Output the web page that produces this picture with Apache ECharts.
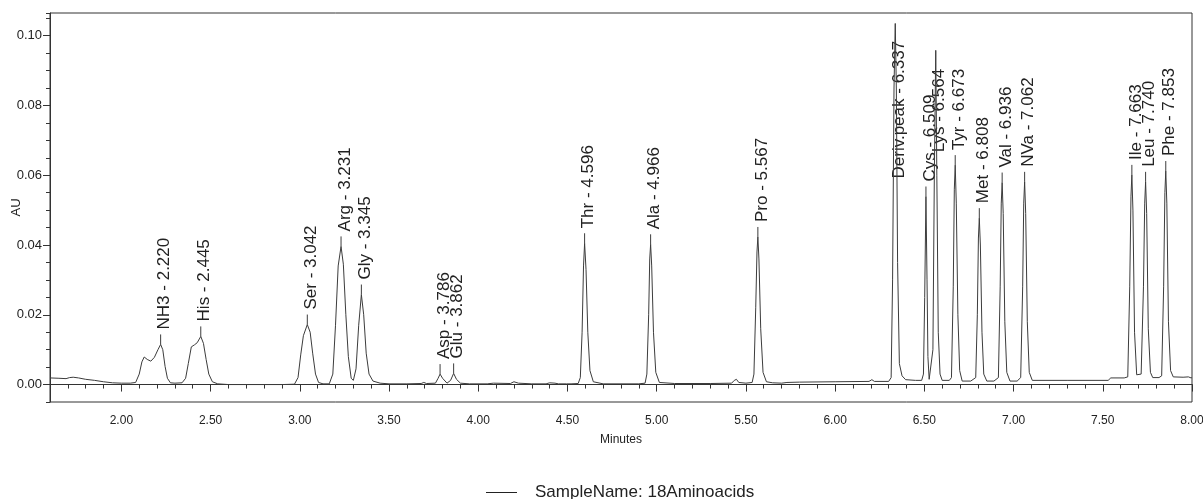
<!DOCTYPE html>
<html>
<head>
<meta charset="utf-8">
<script src="https://cdn.jsdelivr.net/npm/echarts@6/dist/echarts.min.js"></script>
<style>
  html, body { margin: 0; padding: 0; background: #fff; }
  #chart { width: 1203px; height: 499px; }
</style>
</head>
<body>
<div id="chart"></div>
<script>
// chromatogram trace (minutes / AU)
const traceTime = [
  1.600, 1.650, 1.690, 1.710, 1.730, 1.760, 1.800, 1.850, 1.900, 1.950, 2.000, 2.050,
  2.080, 2.100, 2.115, 2.128, 2.145, 2.165, 2.185, 2.205, 2.220, 2.232, 2.245, 2.258, 2.275, 2.300,
  2.340, 2.360, 2.375, 2.392, 2.410, 2.425, 2.445, 2.460, 2.475, 2.490, 2.510, 2.540,
  2.600, 2.700, 2.800, 2.900, 2.970, 2.990, 3.005, 3.020, 3.042, 3.058, 3.072, 3.088, 3.105, 3.130,
  3.165, 3.185, 3.200, 3.215, 3.231, 3.244, 3.258, 3.272, 3.288, 3.300,
  3.315, 3.330, 3.345, 3.358, 3.372, 3.388, 3.410, 3.450, 3.500, 3.600,
  3.680, 3.695, 3.710, 3.760, 3.775, 3.786, 3.800, 3.825, 3.845, 3.862, 3.878, 3.900, 3.950,
  4.050, 4.085, 4.095, 4.180, 4.200, 4.225, 4.300, 4.380, 4.400, 4.430, 4.450, 4.495, 4.505, 4.520,
  4.560, 4.572, 4.582, 4.590, 4.596, 4.604, 4.614, 4.626, 4.645, 4.700,
  4.900, 4.935, 4.945, 4.955, 4.961, 4.966, 4.972, 4.982, 4.995, 5.015, 5.100,
  5.300, 5.420, 5.435, 5.447, 5.460, 5.500,
  5.535, 5.545, 5.555, 5.562, 5.567, 5.573, 5.583, 5.596, 5.615, 5.650, 5.700,
  5.730, 5.800, 6.000, 6.190, 6.206, 6.220, 6.300,
  6.314, 6.322, 6.330, 6.337, 6.343, 6.350, 6.360, 6.375, 6.395, 6.450,
  6.485, 6.495, 6.502, 6.509, 6.515, 6.520, 6.527, 6.535,
  6.548, 6.556, 6.564, 6.570, 6.578, 6.588, 6.600, 6.640,
  6.652, 6.662, 6.668, 6.673, 6.679, 6.688, 6.698, 6.712, 6.760,
  6.788, 6.797, 6.803, 6.808, 6.814, 6.823, 6.833, 6.850, 6.890,
  6.915, 6.925, 6.931, 6.936, 6.942, 6.951, 6.962, 6.980, 7.020,
  7.040, 7.051, 7.057, 7.062, 7.068, 7.077, 7.088, 7.105, 7.300, 7.530, 7.545, 7.620,
  7.640, 7.651, 7.658, 7.663, 7.669, 7.678, 7.690, 7.700,
  7.715, 7.728, 7.735, 7.740, 7.746, 7.755, 7.767, 7.780, 7.815,
  7.830, 7.841, 7.848, 7.853, 7.859, 7.868, 7.880, 7.895, 7.950, 7.980, 7.995, 8.000
];
const traceAU = [
  0.0019, 0.0018, 0.0017, 0.0020, 0.0021, 0.0019, 0.0015, 0.0012, 0.0008, 0.0005, 0.0004, 0.0004,
  0.0006, 0.0030, 0.0065, 0.0079, 0.0072, 0.0067, 0.0078, 0.0100, 0.0115, 0.0100, 0.0052, 0.0018, 0.0005, 0.0004,
  0.0005, 0.0018, 0.0060, 0.0108, 0.0114, 0.0120, 0.0138, 0.0118, 0.0072, 0.0030, 0.0008, 0.0002,
  0.0000, 0.0000, 0.0000, 0.0000, 0.0001, 0.0020, 0.0085, 0.0140, 0.0172, 0.0150, 0.0090, 0.0030, 0.0006, 0.0002,
  0.0002, 0.0030, 0.0170, 0.0340, 0.0396, 0.0345, 0.0200, 0.0080, 0.0018, 0.0012,
  0.0045, 0.0170, 0.0258, 0.0200, 0.0090, 0.0030, 0.0010, 0.0004, 0.0002, 0.0002,
  0.0003, 0.0006, 0.0003, 0.0004, 0.0018, 0.0030, 0.0018, 0.0004, 0.0012, 0.0032, 0.0015, 0.0004, 0.0002,
  0.0002, 0.0004, 0.0002, 0.0003, 0.0008, 0.0004, 0.0002, 0.0002, 0.0005, 0.0004, 0.0002, 0.0002, 0.0005, 0.0002,
  0.0003, 0.0020, 0.0150, 0.0340, 0.0405, 0.0330, 0.0150, 0.0040, 0.0008, 0.0002,
  0.0002, 0.0004, 0.0030, 0.0200, 0.0360, 0.0402, 0.0340, 0.0150, 0.0035, 0.0006, 0.0003,
  0.0003, 0.0004, 0.0012, 0.0015, 0.0006, 0.0004,
  0.0006, 0.0030, 0.0220, 0.0380, 0.0423, 0.0360, 0.0160, 0.0035, 0.0008, 0.0005, 0.0004,
  0.0006, 0.0007, 0.0008, 0.0009, 0.0014, 0.0009, 0.0009,
  0.0020, 0.0300, 0.0850, 0.1035, 0.0850, 0.0350, 0.0060, 0.0025, 0.0014, 0.0012,
  0.0012, 0.0030, 0.0250, 0.0539, 0.0300, 0.0080, 0.0015, 0.0012,
  0.0100, 0.0600, 0.0958, 0.0600, 0.0150, 0.0030, 0.0012, 0.0012,
  0.0020, 0.0280, 0.0560, 0.0629, 0.0520, 0.0200, 0.0040, 0.0010, 0.0010,
  0.0020, 0.0200, 0.0420, 0.0477, 0.0400, 0.0150, 0.0030, 0.0010, 0.0010,
  0.0020, 0.0280, 0.0520, 0.0579, 0.0490, 0.0180, 0.0035, 0.0010, 0.0010,
  0.0020, 0.0280, 0.0520, 0.0581, 0.0490, 0.0180, 0.0035, 0.0012, 0.0012, 0.0012, 0.0019, 0.0019,
  0.0022, 0.0280, 0.0540, 0.0601, 0.0500, 0.0150, 0.0028, 0.0024,
  0.0030, 0.0280, 0.0520, 0.0581, 0.0490, 0.0160, 0.0035, 0.0020, 0.0020,
  0.0025, 0.0280, 0.0550, 0.0612, 0.0520, 0.0180, 0.0040, 0.0022, 0.0021, 0.0022, 0.0019, 0.0020
];

// integrated peaks
const peakNames = ['NH3', 'His', 'Ser', 'Arg', 'Gly', 'Asp', 'Glu', 'Thr', 'Ala', 'Pro',
  'Deriv.peak', 'Cys', 'Lys', 'Tyr', 'Met', 'Val', 'NVa', 'Ile', 'Leu', 'Phe'];
const peakTimes = [2.220, 2.445, 3.042, 3.231, 3.345, 3.786, 3.862, 4.596, 4.966, 5.567,
  6.337, 6.509, 6.564, 6.673, 6.808, 6.936, 7.062, 7.663, 7.740, 7.853];
const peakHeights = [0.0115, 0.0138, 0.0172, 0.0396, 0.0258, 0.0030, 0.0032, 0.0405, 0.0402, 0.0423,
  0.1035, 0.0539, 0.0958, 0.0629, 0.0477, 0.0579, 0.0581, 0.0601, 0.0581, 0.0612];

const xLabelValues = [2.0, 2.5, 3.0, 3.5, 4.0, 4.5, 5.0, 5.5, 6.0, 6.5, 7.0, 7.5, 8.0];
const yLabelValues = [0.00, 0.02, 0.04, 0.06, 0.08, 0.10];
const sampleName = 'SampleName: 18Aminoacids';

// labels that did not fit above their peak are pulled down (px)
const labelDrop = { 'Deriv.peak': 170, 'Lys': 117 };

const FONT = '"Liberation Sans", Arial, sans-serif';
const INK = '#222';
const TRACE = '#3c3c3c';

const chart = echarts.init(document.getElementById('chart'), null, { renderer: 'canvas' });

const traceData = traceTime.map((t, i) => [t, traceAU[i]]);
const peakData = peakTimes.map((t, i) => [t, peakHeights[i], i]);

const option = {
  animation: false,
  backgroundColor: '#fff',
  grid: {
    left: 50, right: 11, top: 13, bottom: 97,
    outerBoundsMode: 'none', containLabel: false,
    show: true, borderColor: '#333', borderWidth: 1, backgroundColor: 'transparent'
  },
  legend: {
    data: [{ name: sampleName, icon: 'rect' }],
    left: 486, top: 484, padding: 0,
    itemWidth: 31, itemHeight: 1,
    itemStyle: { color: '#222' },
    formatter: name => '{t|' + name + '}',
    textStyle: {
      fontFamily: FONT, fontSize: 17, color: INK,
      rich: { t: { fontFamily: FONT, fontSize: 17, color: INK, padding: [0, 0, 0, 13] } }
    }
  },
  xAxis: [{
    type: 'value', min: 1.6, max: 8.0,
    name: 'Minutes', nameLocation: 'middle', nameGap: 32, nameMoveOverlap: false,
    nameTextStyle: { fontFamily: FONT, fontSize: 12, color: INK },
    axisLine: { lineStyle: { color: '#333' } },
    axisTick: { customValues: xLabelValues, length: 7, lineStyle: { color: '#333' } },
    axisLabel: {
      customValues: xLabelValues, margin: 13,
      fontFamily: FONT, fontSize: 12, color: INK,
      formatter: v => v.toFixed(2)
    },
    splitLine: { show: false }
  }, {
    type: 'value', min: 1.6, max: 8.0, interval: 0.1, position: 'bottom',
    axisLine: { show: false },
    axisTick: { length: 4, lineStyle: { color: '#333' } },
    axisLabel: { show: false },
    splitLine: { show: false }
  }],
  yAxis: [{
    type: 'value', min: -0.005, max: 0.1065,
    name: 'AU', nameLocation: 'middle', nameGap: 27, nameMoveOverlap: false,
    nameTextStyle: { fontFamily: FONT, fontSize: 13, color: INK },
    axisLine: { show: true, lineStyle: { color: '#333' } },
    axisTick: { show: true, customValues: yLabelValues, length: 7, lineStyle: { color: '#333' } },
    axisLabel: {
      customValues: yLabelValues, margin: 8,
      fontFamily: FONT, fontSize: 13, color: INK,
      formatter: v => v.toFixed(2)
    },
    splitLine: { show: false }
  }, {
    type: 'value', min: -0.005, max: 0.1065, interval: 0.005, position: 'left',
    axisLine: { show: false },
    axisTick: { show: true, length: 4, lineStyle: { color: '#333' } },
    axisLabel: { show: false },
    splitLine: { show: false }
  }],
  series: [{
    name: sampleName,
    type: 'line',
    data: traceData,
    showSymbol: false,
    lineStyle: { color: TRACE, width: 1 },
    itemStyle: { color: TRACE },
    silent: true
  }, {
    name: 'peaks',
    type: 'custom',
    data: peakData,
    encode: { x: 0, y: 1 },
    clip: false,
    silent: true,
    renderItem: (params, api) => {
      const i = api.value(2);
      const p = api.coord([api.value(0), api.value(1)]);
      const name = peakNames[i];
      const drop = labelDrop[name];
      const text = name + ' - ' + peakTimes[i].toFixed(3);
      const children = [];
      let base = p[1] - 15;
      if (drop) {
        base += drop;
      } else {
        children.push({
          type: 'line',
          shape: { x1: p[0], y1: p[1], x2: p[0], y2: p[1] - 10 },
          style: { stroke: TRACE, lineWidth: 1 }
        });
      }
      children.push({
        type: 'text',
        x: p[0] + 4, y: base,
        rotation: Math.PI / 2,
        style: {
          text: text, font: '17px ' + FONT, fill: INK,
          align: 'left', verticalAlign: 'middle'
        }
      });
      return { type: 'group', children: children };
    }
  }]
};

chart.setOption(option);
</script>
</body>
</html>
